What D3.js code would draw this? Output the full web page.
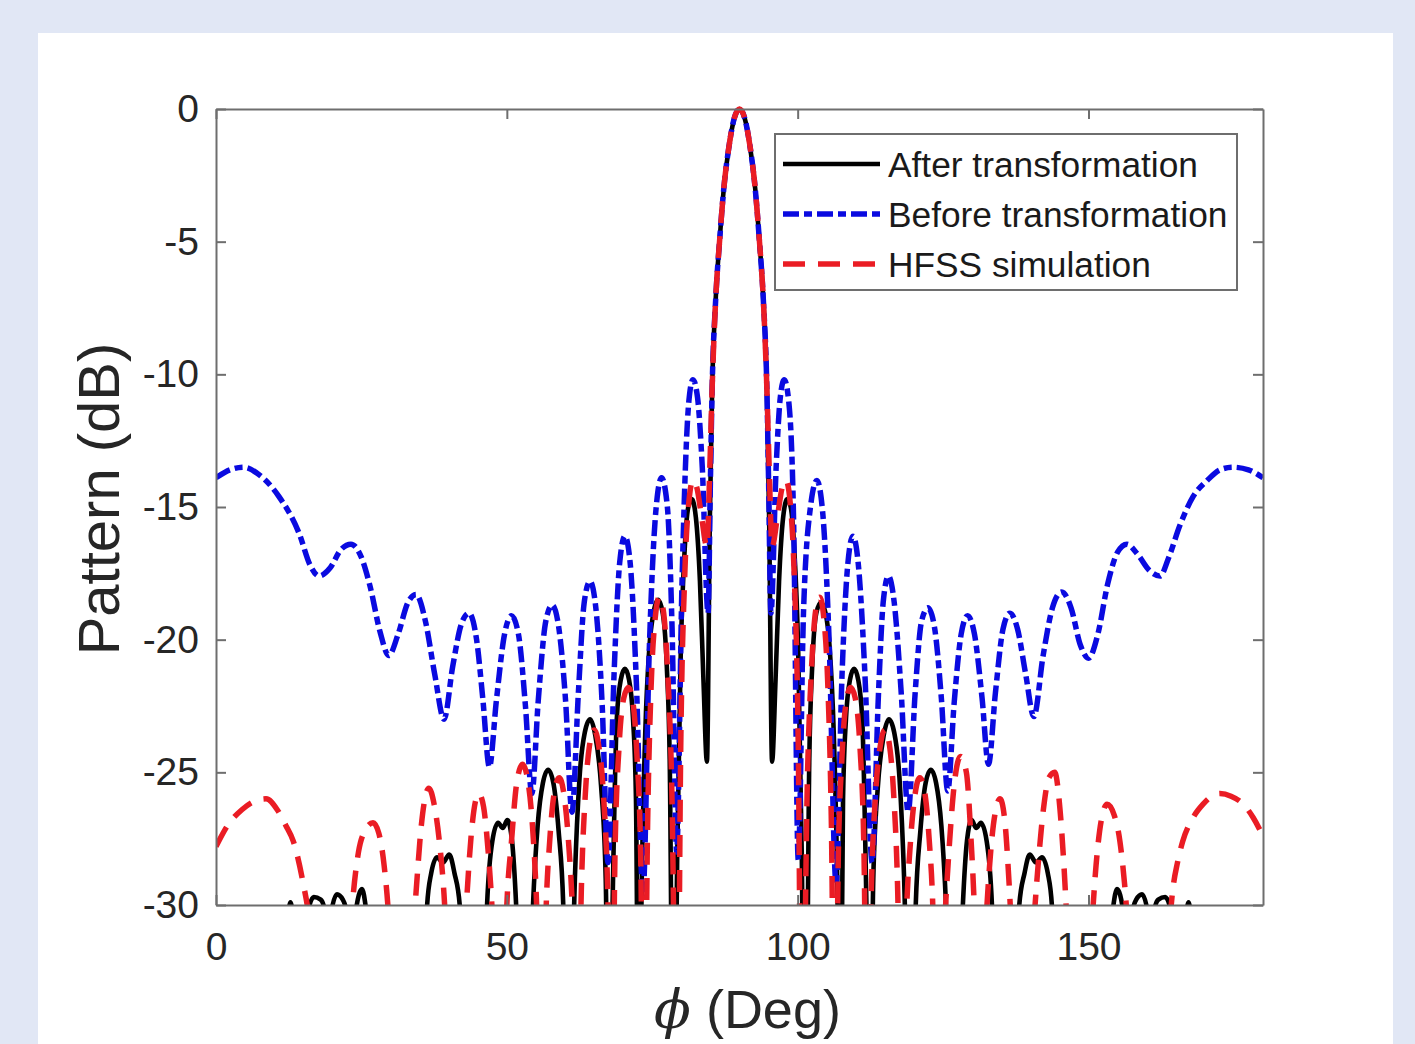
<!DOCTYPE html>
<html>
<head>
<meta charset="utf-8">
<script src="https://cdn.jsdelivr.net/npm/d3@7"></script>
<style>
  html, body { margin: 0; padding: 0; background: #e1e7f5; }
  svg { display: block; }
</style>
</head>
<body>
<div id="chart"></div>
<script>
// ---- data (phi in degrees, pattern in dB) ----
const xTicks = [0, 50, 100, 150];
const yTicks = [-30, -25, -20, -15, -10, -5, 0];
const seriesNames = ["After transformation", "Before transformation", "HFSS simulation"];

// "Before transformation" (blue dash-dot)
const phiBefore = [0, 2.4, 4.8, 7.5, 10.8, 14.3, 16.2, 17.7, 19.6, 21.5, 23.2, 25.0, 26.5, 28.2, 29.7, 31.3, 33.0, 34.4, 36.0, 37.6,
  39.2, 40.7, 42.2, 43.5, 44.8, 45.9, 47.0, 48.2, 49.6, 50.8, 52.0, 53.2, 54.3, 55.4, 56.7, 57.8, 58.9, 60.1, 61.2, 62.3,
  63.3, 64.3, 65.3, 66.4, 67.4, 68.4, 69.4, 70.3, 71.2, 72.3, 73.4, 74.5, 75.6, 76.6, 77.6, 78.4, 79.2, 80.1, 81.3, 82.0,
  82.8, 83.6, 84.6, 85.0, 85.3, 85.9, 86.6, 87.3, 88.2, 89.1, 90.0, 90.9, 91.8, 92.7, 93.4, 94.1, 94.7, 95.0, 95.4, 96.3,
  97.0, 97.7, 98.5, 99.3, 100.1, 101.0, 102.2, 103.3, 104.3, 105.4, 106.6, 107.6, 108.6, 109.5, 110.4, 111.6, 112.8, 113.9, 114.7, 115.6,
  116.6, 117.8, 119.0, 120.2, 121.3, 122.4, 123.5, 124.7, 125.8, 126.9, 128.1, 129.2, 130.4, 131.7, 132.8, 134.0, 135.3, 136.5, 137.8, 139.2,
  140.6, 142.2, 143.8, 145.4, 147.0, 148.6, 150.0, 151.6, 153.3, 155.0, 156.6, 158.5, 160.5, 162.3, 163.8, 165.7, 168.0, 170.4, 172.6, 174.8,
  177.5, 180];
const dbBefore = [-13.9, -13.6, -13.5, -13.8, -14.6, -16.0, -17.2, -17.6, -17.3, -16.6, -16.4, -16.9, -18.0, -19.7, -20.6, -19.8, -18.6, -18.3, -19.3, -21.3,
  -23.0, -21.0, -19.4, -19.0, -20.0, -22.3, -24.8, -22.3, -19.8, -19.1, -19.8, -22.5, -25.8, -22.3, -19.3, -18.7, -19.5, -22.3, -26.5, -22.0,
  -18.6, -17.8, -18.8, -22.5, -28.4, -21.5, -17.1, -16.1, -17.1, -21.8, -29.6, -20.3, -15.2, -13.9, -15.0, -19.5, -28.0, -18.0, -11.0, -10.2,
  -10.9, -13.5, -19.0, -14.0, -10.5, -7.2, -4.9, -3.0, -1.4, -0.35, 0, -0.35, -1.4, -3.0, -4.9, -7.2, -10.5, -14.0, -19.0, -13.5,
  -10.9, -10.2, -11.1, -15.5, -28.3, -19.0, -15.0, -14.0, -15.2, -20.0, -29.2, -21.5, -17.2, -16.1, -17.1, -21.5, -28.4, -22.0, -18.6, -17.6,
  -18.6, -22.0, -26.5, -22.0, -19.3, -18.8, -19.5, -22.2, -25.7, -22.4, -19.8, -19.1, -19.8, -22.2, -24.7, -22.0, -19.6, -19.0, -19.6, -21.3,
  -22.9, -20.6, -18.8, -18.2, -18.8, -20.2, -20.7, -19.8, -17.9, -16.7, -16.4, -16.8, -17.4, -17.6, -16.9, -15.7, -14.6, -14.0, -13.6, -13.5,
  -13.6, -13.9];

// "After transformation" (black solid); values under -30 are cut by the axes
const phiAfter = [10, 12.3, 12.8, 13.3, 14.5, 15.8, 16.8, 18.0, 18.8, 19.3, 19.8, 20.8, 21.8, 22.5, 23.3, 24.0, 25.1, 25.9, 28.0, 35.8,
  36.3, 37.0, 38.0, 39.0, 40.1, 41.0, 41.9, 42.5, 44.5, 46.0, 46.6, 47.5, 48.5, 49.3, 50.1, 50.9, 51.6, 52.3, 53.3, 54.0,
  54.5, 55.3, 56.2, 57.1, 58.0, 58.9, 59.7, 60.5, 61.2, 61.7, 62.5, 63.4, 64.3, 65.2, 66.2, 67.0, 67.6, 68.1, 68.9, 69.6,
  70.3, 71.0, 71.7, 72.2, 72.7, 73.2, 73.8, 74.5, 75.2, 76.0, 76.8, 77.5, 78.0, 78.7, 79.3, 79.9, 80.6, 81.2, 81.8, 82.5,
  83.2, 83.8, 84.4, 84.9, 85.3, 85.9, 86.6, 87.3, 88.2, 89.1, 90.0, 90.9, 91.8, 92.7, 93.4, 94.1, 94.7, 95.1, 95.6, 96.2,
  96.8, 97.5, 98.2, 98.8, 99.4, 100.1, 100.7, 101.3, 102.0, 102.5, 103.2, 104.0, 104.8, 105.5, 106.2, 106.8, 107.3, 107.8, 108.3, 109.0,
  109.7, 110.4, 111.1, 111.9, 112.4, 113.0, 113.8, 114.8, 115.7, 116.6, 117.5, 118.3, 118.8, 119.5, 120.3, 121.1, 122.0, 122.9, 123.8, 124.7,
  125.5, 126.0, 126.7, 127.7, 128.4, 129.1, 129.9, 130.7, 131.5, 132.5, 133.4, 134.0, 135.5, 137.5, 138.1, 139.0, 139.9, 141.0, 142.0, 143.0,
  143.7, 144.2, 152.0, 154.1, 154.9, 156.0, 156.7, 157.5, 158.2, 159.2, 160.2, 160.7, 161.2, 162.0, 163.2, 164.2, 165.5, 166.7, 167.2, 167.7,
  170];
const dbAfter = [-32, -30.5, -29.9, -30.5, -33, -30.3, -29.7, -29.8, -30.3, -32, -30.3, -29.6, -29.8, -30.3, -32, -30.3, -29.4, -30.3, -35, -34,
  -30, -28.8, -28.2, -28.4, -28.1, -28.8, -30, -34, -38, -34, -30, -27.6, -26.9, -27.1, -26.8, -27.6, -30, -34, -37, -33,
  -30, -27.0, -25.4, -24.9, -25.4, -27.2, -30, -38, -33, -29, -25.2, -23.5, -23.0, -23.6, -25.5, -29, -38, -31, -23.0, -21.5,
  -21.1, -21.5, -23.0, -26, -38, -29, -23.5, -20.3, -19.0, -18.5, -19.0, -21.0, -24.5, -40, -28, -20.5, -16.5, -15.0, -14.7, -15.4,
  -17.8, -21.5, -24.6, -15.5, -10.5, -7.2, -4.9, -3.0, -1.4, -0.35, 0, -0.35, -1.4, -3.0, -4.9, -7.2, -10.5, -15.5, -24.6, -21.5,
  -17.8, -15.4, -14.7, -15.0, -16.5, -20.5, -28, -40, -24.5, -21.0, -19.0, -18.6, -19.0, -20.3, -23.5, -29, -38, -26, -23.0, -21.5,
  -21.1, -21.5, -23.0, -31, -38, -29, -25.5, -23.6, -23.0, -23.5, -25.2, -29, -33, -38, -30, -27.2, -25.4, -24.9, -25.4, -27.0,
  -30, -33, -37, -34, -30, -27.6, -26.8, -27.1, -26.9, -27.6, -30, -34, -38, -34, -30, -28.8, -28.1, -28.4, -28.2, -28.8,
  -30, -34, -36, -30.3, -29.4, -30.3, -32, -30.3, -29.8, -29.6, -30.3, -32, -30.3, -29.8, -29.7, -30.3, -33, -30.5, -29.9, -30.5,
  -32];

// "HFSS simulation" (red dashed)
const phiHfss = [0, 2.0, 4.5, 6.5, 8.6, 10.5, 12.0, 13.3, 15.0, 16.0, 17.0, 19.5, 22.8, 23.6, 24.5, 25.6, 27.0, 28.0, 28.9, 29.7,
  30.5, 32.0, 33.6, 34.4, 35.3, 36.0, 36.6, 37.5, 38.4, 39.2, 40.0, 41.3, 42.3, 43.1, 43.9, 44.6, 45.2, 46.0, 46.8, 47.5,
  48.2, 48.8, 49.4, 50.0, 50.8, 51.7, 52.7, 53.6, 54.4, 55.2, 56.0, 56.7, 57.4, 58.2, 59.0, 59.8, 60.6, 61.4, 62.1, 62.8,
  63.5, 64.2, 65.0, 65.8, 66.6, 67.4, 68.0, 68.6, 69.3, 70.1, 70.9, 71.7, 72.4, 73.0, 73.6, 74.2, 74.8, 75.5, 76.2, 76.9,
  77.6, 78.3, 79.3, 79.9, 80.6, 81.3, 82.0, 82.7, 83.5, 84.4, 84.9, 85.3, 85.9, 86.6, 87.3, 88.2, 89.1, 90.0, 90.9, 91.8,
  92.7, 93.4, 94.1, 94.7, 95.1, 95.6, 96.5, 97.3, 98.0, 98.7, 99.4, 100.1, 100.7, 101.7, 102.4, 103.1, 103.8, 104.5, 105.2, 105.8,
  106.4, 107.0, 107.6, 108.3, 109.1, 109.9, 110.7, 111.4, 112.0, 112.6, 113.4, 114.2, 115.0, 115.8, 116.5, 117.2, 117.9, 118.6, 119.4, 120.2,
  121.0, 121.8, 122.6, 123.3, 124.0, 125.2, 126.0, 126.9, 128.0, 129.0, 129.8, 130.5, 131.2, 132.2, 133.0, 133.9, 134.8, 135.6, 136.3, 137.0,
  138.8, 140.5, 141.3, 142.3, 143.2, 144.2, 145.1, 145.8, 146.5, 148.5, 150.5, 151.3, 152.2, 153.2, 154.4, 155.4, 156.2, 157.0, 160.5, 163.8,
  164.5, 165.3, 166.2, 168.0, 169.7, 171.2, 172.6, 174.5, 176.6, 178.3, 180];
const dbHfss = [-27.8, -27.0, -26.4, -26.1, -26.0, -26.4, -27.0, -27.6, -29.2, -30.5, -33, -38, -32, -29.6, -28.0, -27.2, -26.9, -27.3, -28.5, -30.5,
  -34, -38, -32, -29.5, -27.0, -25.9, -25.6, -26.2, -27.6, -29.6, -33, -38, -33, -29.8, -27.3, -26.1, -25.8, -26.3, -28.0, -30.3,
  -34, -38, -34, -30, -27.6, -25.4, -24.7, -25.3, -27.0, -30.5, -38, -30.5, -27.5, -25.7, -25.2, -25.8, -27.6, -31, -38, -29.5,
  -25.8, -24.0, -23.4, -24.0, -25.8, -30, -38, -28, -24.0, -22.2, -21.8, -22.4, -24.5, -28, -38, -27, -21.8, -19.2, -18.4, -18.9,
  -21.0, -25, -38, -24, -17.5, -14.8, -14.0, -14.3, -15.4, -16.5, -13.5, -10.5, -7.2, -4.9, -3.0, -1.4, -0.35, 0, -0.35, -1.4,
  -3.0, -4.9, -7.2, -10.5, -13.5, -16.5, -15.4, -14.3, -14.0, -14.8, -17.5, -24, -38, -25, -21.0, -18.9, -18.4, -19.2, -21.8, -27,
  -38, -28, -24.5, -22.4, -21.8, -22.2, -24.0, -28, -38, -30, -25.8, -24.0, -23.4, -24.0, -25.8, -29.5, -38, -31, -27.6, -25.8,
  -25.2, -25.7, -27.5, -30.5, -38, -31, -28, -25.5, -24.4, -25.0, -27.5, -31, -38, -31.5, -28.5, -26.6, -26.0, -26.8, -29, -32,
  -38, -31, -28.6, -26.3, -25.2, -25.0, -26.4, -28.6, -31.5, -38, -31, -28.5, -26.8, -26.2, -26.6, -27.6, -29.2, -31.5, -38, -31,
  -29.4, -28.4, -27.6, -26.7, -26.2, -25.9, -25.8, -25.9, -26.2, -26.7, -27.4];

const W = 1415, H = 1044;
const font = "'Liberation Sans', Arial, Helvetica, sans-serif";

const svg = d3.select("#chart").append("svg")
    .attr("width", W)
    .attr("height", H);

svg.append("rect").attr("width", W).attr("height", H).attr("fill", "#e1e7f5");
svg.append("rect").attr("x", 38).attr("y", 33).attr("width", 1355).attr("height", H - 33).attr("fill", "#ffffff");

const x = d3.scaleLinear().domain([0, 180]).range([216, 1263]);
const y = d3.scaleLinear().domain([-30, 0]).range([905, 109]);

// clip so the curves stop at the axes box like the MATLAB figure
svg.append("clipPath").attr("id", "plotClip")
  .append("rect")
    .attr("x", x(0)).attr("y", y(0) - 5)
    .attr("width", x(180) - x(0)).attr("height", y(-30) - y(0) + 5);

const line = d3.line()
    .x(d => x(d[0]))
    .y(d => y(d[1]))
    .curve(d3.curveMonotoneX);

const zip = (a, b) => a.map((v, i) => [v, b[i]]);

const series = [
  { name: seriesNames[0], data: zip(phiAfter, dbAfter), color: "#000000", width: 4.6, dash: null },
  { name: seriesNames[1], data: zip(phiBefore, dbBefore), color: "#0a0ae0", width: 5.5, dash: "16,5,8,5" },
  { name: seriesNames[2], data: zip(phiHfss, dbHfss), color: "#ea1c24", width: 5.5, dash: "22,13" }
];

const plot = svg.append("g").attr("clip-path", "url(#plotClip)");
series.forEach(s => {
  plot.append("path")
      .datum(s.data)
      .attr("fill", "none")
      .attr("stroke", s.color)
      .attr("stroke-width", s.width)
      .attr("stroke-dasharray", s.dash)
      .attr("stroke-linejoin", "round")
      .attr("d", line);
});

// axes box with inward ticks on all four sides
const axisColor = "#6e6e6e";
function styleAxis(g) {
  g.select(".domain").attr("stroke", axisColor).attr("stroke-width", 2);
  g.selectAll(".tick line").attr("stroke", axisColor).attr("stroke-width", 2);
  g.selectAll(".tick text")
    .attr("fill", "#262626")
    .style("font-family", font)
    .style("font-size", "39px");
}

svg.append("g")
    .attr("transform", `translate(0,${y(-30)})`)
    .call(d3.axisBottom(x).tickValues(xTicks).tickSizeInner(-10).tickSizeOuter(0).tickPadding(27).tickFormat(d => String(d)))
    .call(styleAxis);

svg.append("g")
    .attr("transform", `translate(0,${y(0)})`)
    .call(d3.axisTop(x).tickValues(xTicks).tickSizeInner(-10).tickSizeOuter(0).tickFormat(""))
    .call(styleAxis);

svg.append("g")
    .attr("transform", `translate(${x(0)},0)`)
    .call(d3.axisLeft(y).tickValues(yTicks).tickSizeInner(-10).tickSizeOuter(0).tickPadding(17).tickFormat(d => String(d)))
    .call(styleAxis);

svg.append("g")
    .attr("transform", `translate(${x(180)},0)`)
    .call(d3.axisRight(y).tickValues(yTicks).tickSizeInner(-10).tickSizeOuter(0).tickFormat(""))
    .call(styleAxis);

// axis titles
svg.append("text")
    .attr("transform", `translate(119,${(y(0) + y(-30)) / 2 - 8}) rotate(-90)`)
    .attr("text-anchor", "middle")
    .attr("fill", "#262626")
    .style("font-family", font)
    .style("font-size", "58px")
    .text("Pattern (dB)");

const xl = svg.append("text")
    .attr("x", (x(0) + x(180)) / 2 + 8)
    .attr("y", 1028)
    .attr("text-anchor", "middle")
    .attr("fill", "#262626")
    .style("font-family", font)
    .style("font-size", "54px");
xl.append("tspan").style("font-family", "'DejaVu Serif', serif").style("font-style", "italic").text("ϕ");
xl.append("tspan").text(" (Deg)");

// legend
const lg = svg.append("g");
lg.append("rect")
    .attr("x", 775).attr("y", 134)
    .attr("width", 462).attr("height", 156)
    .attr("fill", "#ffffff")
    .attr("stroke", "#6e6e6e")
    .attr("stroke-width", 2);

series.forEach((s, i) => {
  const cy = 164 + i * 50;
  lg.append("line")
      .attr("x1", 783).attr("x2", 880)
      .attr("y1", cy).attr("y2", cy)
      .attr("stroke", s.color)
      .attr("stroke-width", s.width)
      .attr("stroke-dasharray", s.dash);
  lg.append("text")
      .attr("x", 888).attr("y", cy + 1)
      .attr("dy", "0.35em")
      .attr("fill", "#1a1a1a")
      .style("font-family", font)
      .style("font-size", "35.3px")
      .text(s.name);
});
</script>
</body>
</html>
